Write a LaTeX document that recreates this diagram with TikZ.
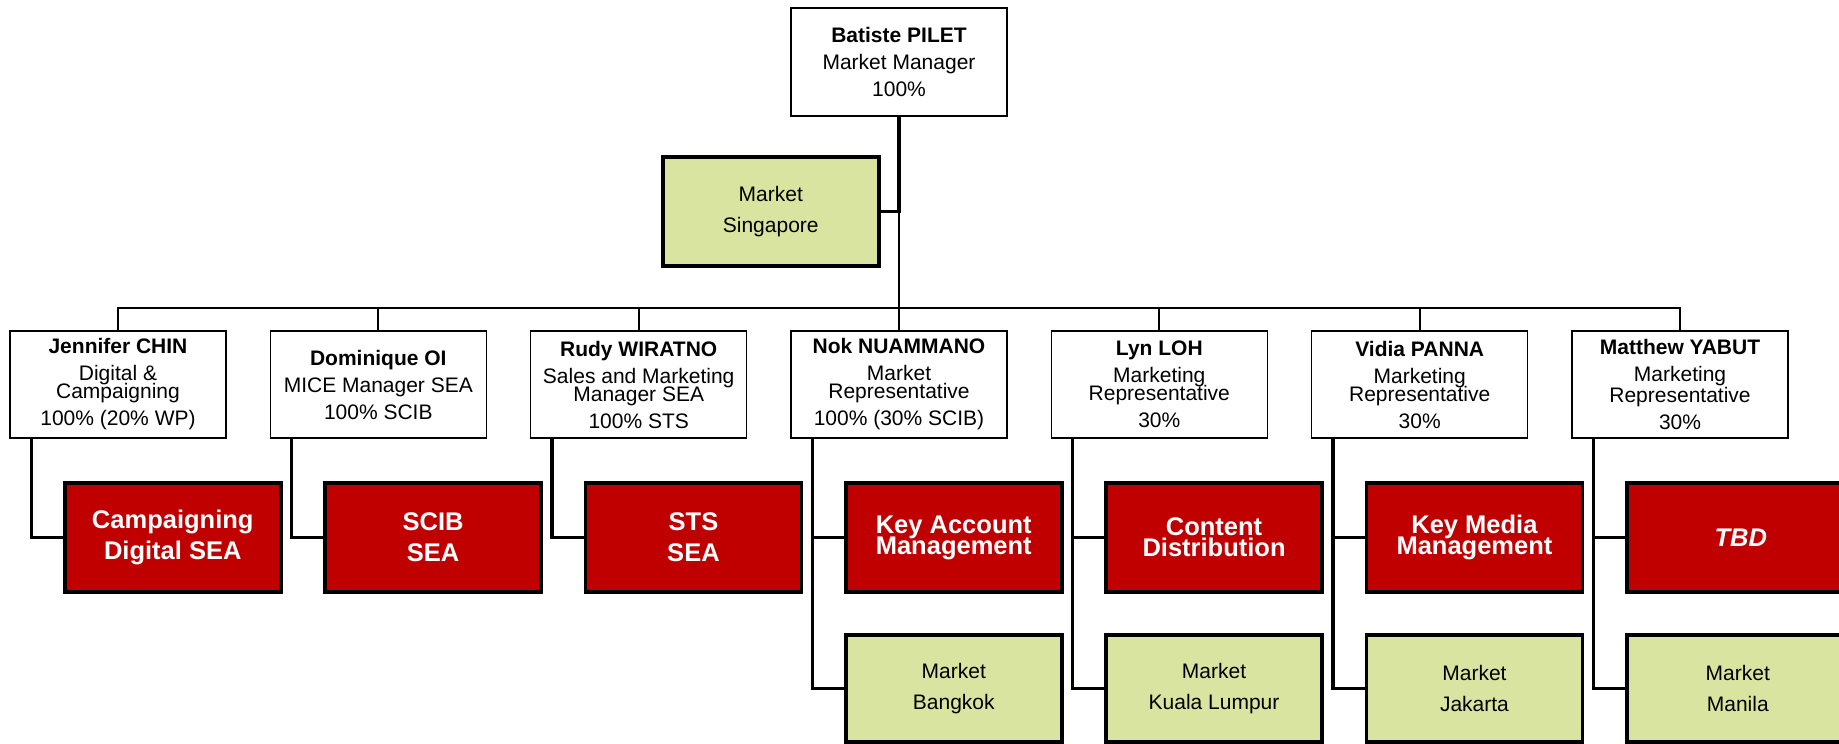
\documentclass[tikz,border=0pt]{standalone}
\usepackage{fontspec}
\setmainfont{Liberation Sans}
\usetikzlibrary{calc}

\definecolor{boxred}{RGB}{192,0,0}
\definecolor{boxgreen}{RGB}{216,228,160}

\tikzset{
  person/.style={draw, line width=1.5pt, fill=white, align=center, inner sep=2pt,
    minimum width=216pt, minimum height=107pt, font=\fontsize{21}{27}\selectfont},
  task/.style={draw, line width=3.5pt, fill=boxred, text=white, align=center, anchor=west,
    minimum width=216pt, minimum height=109pt, font=\bfseries\fontsize{25.5}{31}\selectfont},
  market/.style={draw, line width=3.5pt, fill=boxgreen, align=center, anchor=west,
    minimum width=216pt, minimum height=107pt, font=\fontsize{21}{31}\selectfont},
  link/.style={line width=3.3pt},
  bus/.style={line width=2pt},
}

\begin{document}
\begin{tikzpicture}[x=1pt,y=1pt,yscale=-1]
\useasboundingbox (0,0) rectangle (1839,744);

%Manager and home market
\node[person, minimum height=108pt] (boss) at (899,62) {\textbf{Batiste PILET}\\Market Manager\\100\%};
\node[market, minimum height=109pt] (sg) at (661,211.5) {Market\\Singapore};

%Team row
\node[person] (jen) at (118,384.5) {\textbf{Jennifer CHIN}\\Digital \&\\[-9pt]Campaigning\\100\% (20\% WP)};
\node[person] (dom) at (378.3,384.5) {\textbf{Dominique OI}\\MICE Manager SEA\\100\% SCIB};
\node[person] (rudy) at (638.7,384.5) {\textbf{Rudy WIRATNO}\\Sales and Marketing\\[-9pt]Manager SEA\\100\% STS};
\node[person] (nok) at (899,384.5) {\textbf{Nok NUAMMANO}\\Market\\[-9pt]Representative\\100\% (30\% SCIB)};
\node[person] (lyn) at (1159.3,384.5) {\textbf{Lyn LOH}\\Marketing\\[-9pt]Representative\\30\%};
\node[person] (vidia) at (1419.7,384.5) {\textbf{Vidia PANNA}\\Marketing\\[-9pt]Representative\\30\%};
\node[person] (matt) at (1680,384.5) {\textbf{Matthew YABUT}\\Marketing\\[-6pt]Representative\\30\%};

%Tasks
\node[task] (tJen) at (63,537.5) {Campaigning\\Digital SEA};
\node[task] (tDom) at (323.3,537.5) {SCIB\\SEA};
\node[task] (tRudy) at (583.7,537.5) {STS\\SEA};
\node[task] (tNok) at (844,537.5) {Key Account\\[-10pt]Management};
\node[task] (tLyn) at (1104.3,537.5) {Content\\[-10pt]Distribution};
\node[task] (tVidia) at (1364.7,537.5) {Key Media\\[-10pt]Management};
\node[task, minimum width=222pt] (tMatt) at (1625,537.5) {\hspace*{6pt}\textit{TBD}};

%Local markets
\node[market] (mNok) at (844,688.5) {Market\\Bangkok};
\node[market] (mLyn) at (1104.3,688.5) {Market\\Kuala Lumpur};
\node[market] (mVidia) at (1364.7,688.5) {Market\\Jakarta};
\node[market, minimum width=222pt] (mMatt) at (1625,688.5) {Market\\Manila};

%Reporting lines
\draw[link] (boss.south) |- (sg.east);
\coordinate (hub) at (boss.south |- sg.east);
\coordinate (busY) at (0,308);
\coordinate (bus) at (boss.south |- busY);
\draw[bus] (hub) -- (bus);
\draw[bus] (jen.north) |- (bus) -| (matt.north);
\foreach \p in {dom,rudy,nok,lyn,vidia}
  \draw[bus] (\p.north) -- (\p.north |- bus);

%Task and market branches
\foreach \p/\t in {jen/tJen, dom/tDom, rudy/tRudy}{
  \coordinate (c\p) at ([xshift=22pt]\p.south west);
  \draw[link] (c\p) |- (\t.west);
}
\foreach \p/\t/\m in {nok/tNok/mNok, lyn/tLyn/mLyn, vidia/tVidia/mVidia, matt/tMatt/mMatt}{
  \coordinate (c\p) at ([xshift=22pt]\p.south west);
  \draw[link] (c\p) |- (\m.west);
  \draw[link] (c\p |- \t.west) -- (\t.west);
}
\end{tikzpicture}
\end{document}
